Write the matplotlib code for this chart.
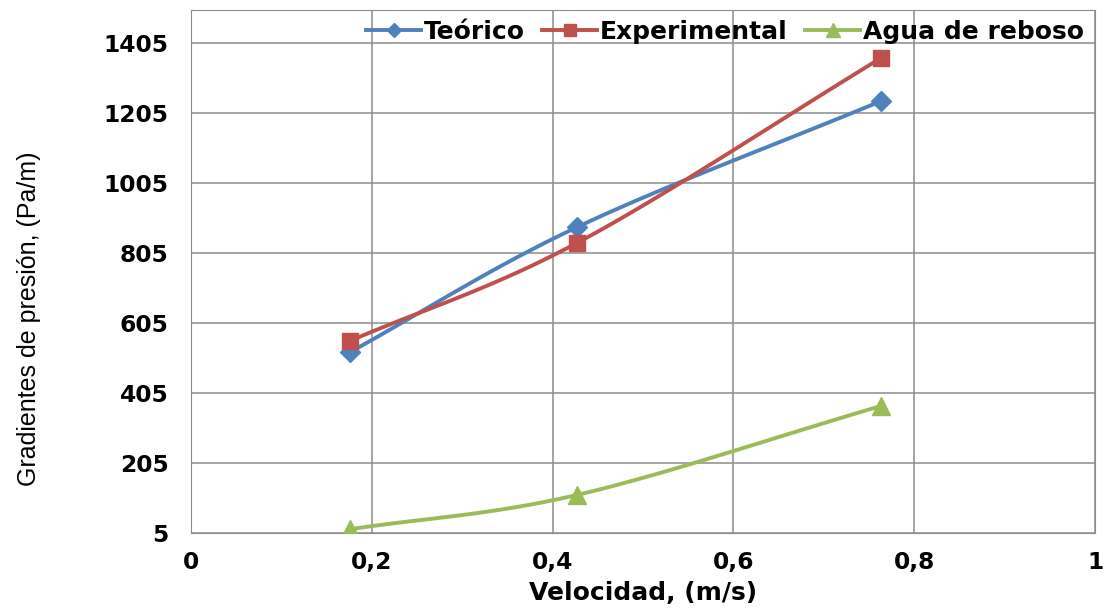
import numpy as np
import matplotlib.pyplot as plt
from matplotlib.ticker import FuncFormatter

plt.rcParams['font.family'] = ['DejaVu Sans']

velocidad = [0.176, 0.427, 0.763]
teorico = [522, 879, 1239]
experimental = [554, 834, 1362]
agua_reboso = [16, 114, 368]

series = [
    ("Teórico", teorico, "#4F81BD", "D", 10),
    ("Experimental", experimental, "#C0504D", "s", 12),
    ("Agua de reboso", agua_reboso, "#9BBB59", "^", 13),
]


def suavizar(x, y, n=60):
    # curva tipo Catmull-Rom como la línea suavizada de Excel
    x = np.asarray(x, float)
    y = np.asarray(y, float)
    px = np.concatenate([[2 * x[0] - x[1]], x, [2 * x[-1] - x[-2]]])
    py = np.concatenate([[2 * y[0] - y[1]], y, [2 * y[-1] - y[-2]]])
    xs, ys = [], []
    t = np.linspace(0, 1, n)
    for i in range(1, len(px) - 2):
        for p, out in ((px, xs), (py, ys)):
            p0, p1, p2, p3 = p[i - 1], p[i], p[i + 1], p[i + 2]
            out.append(0.5 * ((2 * p1) + (-p0 + p2) * t
                              + (2 * p0 - 5 * p1 + 4 * p2 - p3) * t ** 2
                              + (-p0 + 3 * p1 - 3 * p2 + p3) * t ** 3))
    return np.concatenate(xs), np.concatenate(ys)


fig = plt.figure(figsize=(11.04, 6.12), dpi=100)
ax = fig.add_axes([0.173, 0.129, 0.819, 0.855])

for nombre, valores, color, marca, tam in series:
    xs, ys = suavizar(velocidad, valores)
    ax.plot(xs, ys, color=color, lw=2.8, zorder=3)
    ax.plot(velocidad, valores, ls="none", marker=marca, ms=tam, color=color, zorder=4)
    ax.plot([], [], color=color, lw=2.8, marker=marca, ms=tam * 0.75, label=nombre)

ax.set_xlim(0, 1)
ax.set_ylim(5, 1500)
ax.set_xticks(np.arange(0, 1.01, 0.2))
ax.set_yticks(np.arange(5, 1406, 200))
ax.xaxis.set_major_formatter(FuncFormatter(lambda v, p: ("%g" % round(v, 2)).replace(".", ",")))
ax.grid(True, color="#8c8c8c", lw=1.1)
ax.set_axisbelow(True)
for s in ax.spines.values():
    s.set_color("#8c8c8c")
ax.tick_params(axis="both", colors="#8c8c8c", labelcolor="black", labelsize=16.8, length=0)
ax.tick_params(axis="y", pad=16)
ax.tick_params(axis="x", pad=13)
for lbl in ax.get_xticklabels() + ax.get_yticklabels():
    lbl.set_fontweight("bold")

ax.set_xlabel("Velocidad, (m/s)", fontsize=18, fontweight="bold")
ax.xaxis.set_label_coords(0.5, -0.092)
ax.set_ylabel("Gradientes de presión, (Pa/m)", fontsize=18, family="Liberation Sans")
ax.yaxis.set_label_coords(-0.166, 0.41)

ax.legend(loc="center right", bbox_to_anchor=(1.001, 0.958), ncol=3, frameon=False,
          prop={"size": 18, "weight": "bold"}, borderpad=0, handlelength=2.2,
          handletextpad=0.1, columnspacing=0.7)

fig.savefig("out.png", dpi=100)
